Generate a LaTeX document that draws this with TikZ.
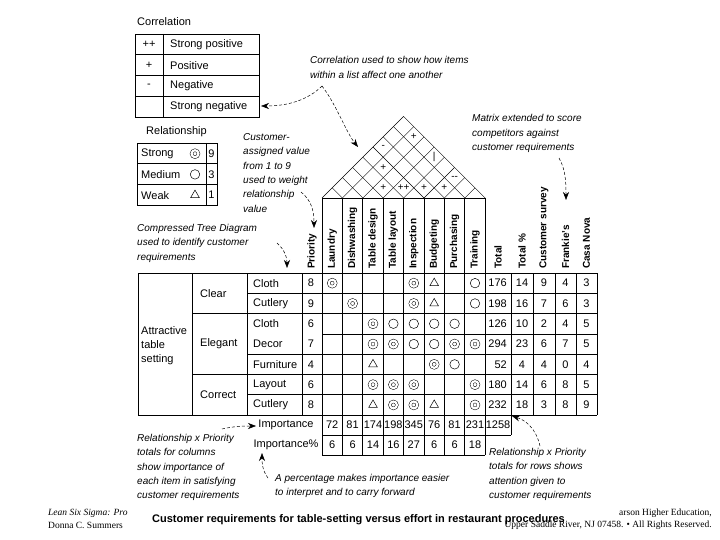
\documentclass[tikz,border=0pt]{standalone}
\usepackage{fontspec}
\setmainfont{Liberation Sans}
\newfontfamily\footserif{Liberation Serif}
\usetikzlibrary{arrows.meta,positioning,calc,shapes.geometric}

\begin{document}
\begin{tikzpicture}[
  x=1pt, y=-1pt,
  >=Stealth,
  font=\fontsize{11}{13}\selectfont,
  rule/.style={line width=0.7pt},
  roofrule/.style={line width=0.4pt},
  cell/.style={inner sep=0pt},
  colhead/.style={rotate=90, anchor=west, inner sep=0pt, font=\bfseries\fontsize{10}{12}\selectfont},
  note/.style={anchor=base west, inner sep=0pt, align=left, font=\itshape\fontsize{10}{14.3}\selectfont},
  strongsym/.style={circle, draw, double, double distance=2.2pt, line width=0.5pt, minimum size=7pt, inner sep=0pt},
  mediumsym/.style={circle, draw, line width=0.5pt, minimum size=9.5pt, inner sep=0pt},
  weaksym/.style={regular polygon, regular polygon sides=3, draw, line width=0.5pt, minimum size=10pt, inner sep=0pt},
  callout/.style={densely dashed, line width=0.5pt, -{Stealth[length=8pt,width=6pt]}}
]
\useasboundingbox (0,0) rectangle (720,540);

% ==================== Legend: correlation ====================
\node (corrtitle) [anchor=base west, inner sep=0pt] at (137,26) {Correlation};
\draw[rule] (135,34) rectangle (259,117);
\foreach \yy in {54.75,75.5,96.25} \draw[rule] (135,\yy) -- (259,\yy);
\draw[rule] (163,34) -- (163,117);
\foreach \r/\s/\t in {1/++/Strong positive, 2/+/Positive, 3/-/Negative, 4//Strong negative}{
  \node (corrsym-\r) [cell] at (149,{23.6+20.75*\r}) {\s};
  \node (corrtxt-\r) [cell, anchor=west] at (170,{23.6+20.75*\r}) {\t};
}

% ==================== Legend: relationship ====================
\node (reltitle) [anchor=base west, inner sep=0pt] at (146,135) {Relationship};
\draw[rule] (137,143) rectangle (217,205);
\foreach \yy in {163.7,184.3} \draw[rule] (137,\yy) -- (217,\yy);
\draw[rule] (206,143) -- (206,205);
\foreach \r/\t/\sym/\v in {1/Strong/strongsym/9, 2/Medium/mediumsym/3, 3/Weak/weaksym/1}{
  \node (reltxt-\r) [cell, anchor=west] at (141,{133+20.7*\r}) {\t};
  \node (relsym-\r) [\sym] at (195,{133+20.7*\r}) {};
  \node (relval-\r) [cell] at (211.5,{133+20.7*\r}) {\v};
}

% ==================== Roof (correlation matrix) ====================
\coordinate (roofl) at (322,198);
\coordinate (roofr) at (485.2,198);
\coordinate (apex) at (403.6,116.4);
\draw[roofrule] (roofl) -- (apex) -- (roofr);
\foreach \k in {1,...,7}{
  \draw[roofrule] ({322+20.4*\k},198) -- ({(322+20.4*\k+485.2)/2},{198-(485.2-322-20.4*\k)/2});
  \draw[roofrule] ({322+20.4*\k},198) -- ({(322+20.4*\k+322)/2},{198-(20.4*\k)/2});
}
\foreach \i/\j/\m in {1/7/+, 0/5/-, 1/4/+, 3/7/|, 5/7/{-{}-}, 2/3/+, 3/4/++, 4/5/+, 5/6/+}
  \node (corr-\i-\j) [cell, font=\fontsize{10}{12}\selectfont] at ({332.2+10.2*(\i+\j)},{198-10.2*(\j-\i)}) {\m};

% ==================== Column headers ====================
\draw[rule] (322,198) rectangle (485.2,273);
\node (prihead) [colhead] at (312,269) {Priority};
\foreach \k/\t in {0/Laundry, 1/Dishwashing, 2/Table design, 3/Table layout, 4/Inspection, 5/Budgeting, 6/Purchasing, 7/Training}
  \node (head-\k) [colhead] at ({332.2+20.4*\k},269) {\t};
\node (tothead) [colhead] at (498,269) {Total};
\node (pcthead) [colhead] at (522,269) {Total \%};
\node (survhead) [colhead] at (544,269) {Customer survey};
\node (frankhead) [colhead] at (565.5,269) {Frankie's};
\node (casahead) [colhead] at (586.5,269) {Casa Nova};

% ==================== Main table grid ====================
\draw[rule] (138,273) -- (597,273);
\draw[rule] (138,415.1) -- (597,415.1);
\foreach \xx in {138,192,247,302} \draw[rule] (\xx,273) -- (\xx,415.1);
\foreach \k in {0,...,8} \draw[rule] ({322+20.4*\k},198) -- ({322+20.4*\k},455);
\draw[rule] (511,273) -- (511,435);
\foreach \xx in {533,555,576,597} \draw[rule] (\xx,273) -- (\xx,415.1);
\foreach \yy in {313.6,374.5} \draw[rule] (192,\yy) -- (597,\yy);
\foreach \yy in {293.3,354.2,394.8} \draw[rule] (247,\yy) -- (597,\yy);
\draw[rule] (322,333.9) -- (597,333.9);
\draw[rule] (322,435) -- (511,435);
\draw[rule] (322,455) -- (485.2,455);

% tree diagram
\node (lvl1) [cell, anchor=base west, align=left, font=\fontsize{11}{14}\selectfont] at (141,362) {Attractive\\table\\setting};
\node (clear) [cell, anchor=west] at (200,293.3) {Clear};
\node (elegant) [cell, anchor=west] at (200,344.05) {Elegant};
\node (correct) [cell, anchor=west] at (200,394.8) {Correct};
\foreach \r/\item/\pri in {1/Cloth/8, 2/Cutlery/9, 3/Cloth/6, 4/Decor/7, 5/Furniture/4, 6/Layout/6, 7/Cutlery/8}{
  \node (item-\r) [cell, anchor=west] at (253,{262.85+20.3*\r}) {\item};
  \node (pri-\r) [cell] at (311,{262.85+20.3*\r}) {\pri};
}

% relationship symbols
\foreach \r/\c/\sym in {1/0/strongsym, 1/4/strongsym, 1/5/weaksym, 1/7/mediumsym,
  2/1/strongsym, 2/4/strongsym, 2/5/weaksym, 2/7/mediumsym,
  3/2/strongsym, 3/3/mediumsym, 3/4/mediumsym, 3/5/mediumsym, 3/6/mediumsym,
  4/2/strongsym, 4/3/strongsym, 4/4/mediumsym, 4/5/mediumsym, 4/6/strongsym, 4/7/strongsym,
  5/2/weaksym, 5/5/strongsym, 5/6/mediumsym,
  6/2/strongsym, 6/3/strongsym, 6/4/strongsym, 6/7/strongsym,
  7/2/weaksym, 7/3/strongsym, 7/4/strongsym, 7/5/weaksym, 7/7/strongsym}
  \node (rel-\r-\c) [\sym] at ({332.2+20.4*\c},{262.85+20.3*\r}) {};

% row totals and competitor scores
\foreach \r/\tot/\pct/\cs/\fr/\cn in {1/176/14/9/4/3, 2/198/16/7/6/3, 3/126/10/2/4/5,
  4/294/23/6/7/5, 5/52/4/4/0/4, 6/180/14/6/8/5, 7/232/18/3/8/9}{
  \node (tot-\r) [cell, anchor=east] at (507,{262.85+20.3*\r}) {\tot};
  \node (pct-\r) [cell] at (522,{262.85+20.3*\r}) {\pct};
  \node (surv-\r) [cell] at (544,{262.85+20.3*\r}) {\cs};
  \node (frank-\r) [cell] at (565.5,{262.85+20.3*\r}) {\fr};
  \node (casa-\r) [cell] at (586.5,{262.85+20.3*\r}) {\cn};
}

% importance rows
\node (implabel) [cell] at (286,425) {Importance};
\node (impplabel) [cell] at (286,445) {Importance\%};
\foreach \k/\v/\p in {0/72/6, 1/81/6, 2/174/14, 3/198/16, 4/345/27, 5/76/6, 6/81/6, 7/231/18}{
  \node (imp-\k) [cell] at ({332.2+20.4*\k},425) {\v};
  \node (impp-\k) [cell] at ({332.2+20.4*\k},445) {\p};
}
\node (imptotal) [cell] at (498,425) {1258};

% ==================== Annotations ====================
% (base anchor of a multi-line note sits on its last line)
\node (corrnote) [note] at (310,78.3) {Correlation used to show how items\\within a list affect one another};
\node (matnote) [note] at (472,150.6) {Matrix extended to score\\competitors against\\customer requirements};
\node (custnote) [note] at (243,212) {Customer-\\assigned value\\from 1 to 9\\used to weight\\relationship\\value};
\node (treenote) [note] at (137,260.1) {Compressed Tree Diagram\\used to identify customer\\requirements};
\node (colnote) [note] at (137,498.7) {Relationship x Priority\\totals for columns\\show importance of\\each item in satisfying\\customer requirements};
\node (pctnote) [note] at (275,495.8) {A percentage makes importance easier\\to interpret and to carry forward};
\node (rownote) [note] at (489,498.4) {Relationship x Priority\\totals for rows shows\\attention given to\\customer requirements};

\coordinate (corrfoot) at (322,86);
\coordinate (legtip) at (261,106);
\coordinate (rooftip) at (358,147);
\coordinate (custfoot) at (301,192);
\coordinate (pritip) at (314,228);
\coordinate (treefoot) at (277,243);
\coordinate (treetip) at (287,268);
\coordinate (matfoot) at (559,158);
\coordinate (matip) at (566,200);
\coordinate (colfoot) at (222,429);
\coordinate (imptip) at (256,426);
\coordinate (pctfoot) at (268,478);
\coordinate (pcttip) at (262,453);
\coordinate (rowfoot) at (540,446);
\coordinate (rowtip) at (512,416);

\draw[callout] (corrfoot) .. controls (308,100) and (288,106) .. (legtip);
\draw[callout] (corrfoot) .. controls (336,104) and (346,132) .. (rooftip);
\draw[callout] (custfoot) .. controls (311,200) and (314,210) .. (pritip);
\draw[callout] (treefoot) .. controls (285,250) and (287,258) .. (treetip);
\draw[callout] (matfoot) .. controls (566,170) and (566,184) .. (matip);
\draw[callout] (colfoot) .. controls (235,426) and (245,426) .. (imptip);
\draw[callout] (pctfoot) .. controls (262,470) and (262,462) .. (pcttip);
\draw[callout] (rowfoot) .. controls (536,428) and (525,420) .. (rowtip);

% ==================== Footer and caption ====================
\node (book) [anchor=base west, inner sep=0pt, font=\footserif\itshape\fontsize{9.5}{11}\selectfont] at (48,515) {Lean Six Sigma: Pro};
\node (author) [anchor=base west, inner sep=0pt, font=\footserif\fontsize{9.5}{11}\selectfont] at (48,528) {Donna C. Summers};
\node (pub1) [anchor=base east, inner sep=0pt, font=\footserif\fontsize{9.5}{11}\selectfont] at (712,515) {arson Higher Education,};
\node (pub2) [anchor=base east, inner sep=0pt, font=\footserif\fontsize{9.5}{11}\selectfont] at (712,527) {Upper Saddle River, NJ 07458. • All Rights Reserved.};
\node (caption) [anchor=base west, inner sep=0pt, font=\bfseries\fontsize{11}{13}\selectfont] at (152,522) {Customer requirements for table-setting versus effort in restaurant procedures};

\end{tikzpicture}
\end{document}
